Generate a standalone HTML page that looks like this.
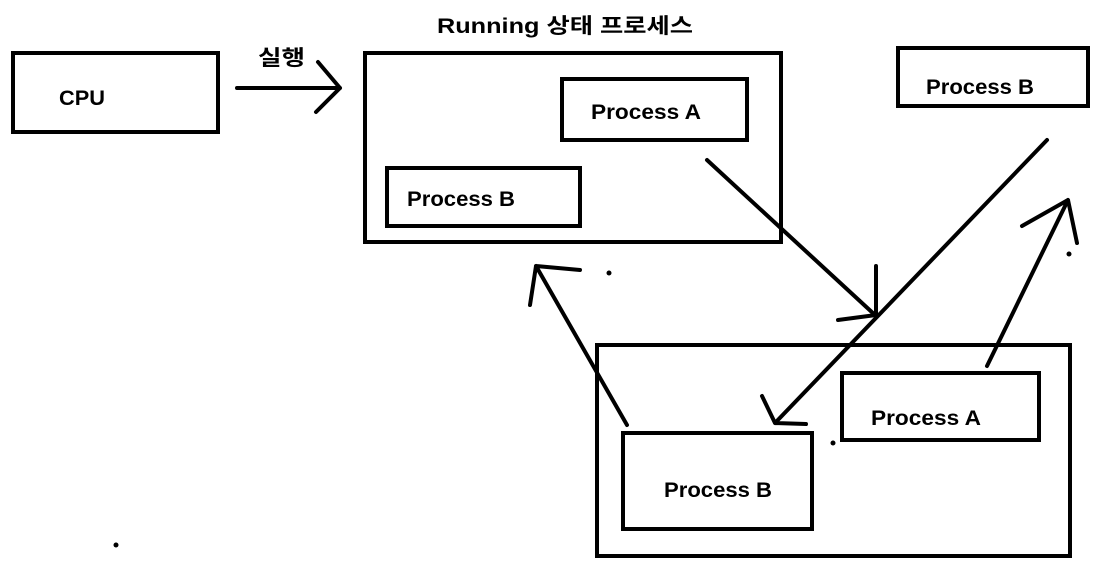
<!DOCTYPE html>
<html><head><meta charset="utf-8"><style>
html,body{margin:0;padding:0;background:#fff;}
svg{display:block;}
text{font-family:"Liberation Sans","Noto Sans CJK KR",sans-serif;font-weight:bold;font-size:21px;fill:#000;}
</style></head><body>
<svg width="1106" height="571" viewBox="0 0 1106 571" xmlns="http://www.w3.org/2000/svg">
<g fill="none" stroke="#000" stroke-width="4">
<rect x="13" y="53" width="205" height="79"/>
<rect x="365" y="53" width="416" height="189"/>
<rect x="562" y="79" width="185" height="61"/>
<rect x="387" y="168" width="193" height="58"/>
<rect x="898" y="48" width="190" height="58"/>
<rect x="597" y="345" width="473" height="211"/>
<rect x="842" y="373" width="197" height="67"/>
<rect x="623" y="433" width="189" height="96"/>
</g>
<g fill="none" stroke="#000" stroke-width="4" stroke-linecap="round" stroke-linejoin="round">
<path d="M237 88 L340 88 M318 62 L340 88 L316 112"/>
<path d="M707 160 L875 315 M876 266 L876 315 L838 320"/>
<path d="M1047 140 L775 423 M762 396 L775 423 L806 424"/>
<path d="M987 366 L1068 200 M1022 226 L1068 200 L1077 243"/>
<path d="M627 425 L536 266 M530 305 L536 266 L580 270"/>
</g>
<g fill="#000">
<circle cx="609" cy="273" r="2.5"/>
<circle cx="1069" cy="254" r="2.5"/>
<circle cx="833" cy="443" r="2.5"/>
<circle cx="116" cy="545" r="2.5"/>
</g>
<text x="437" y="33" textLength="256" lengthAdjust="spacingAndGlyphs">Running 상태 프로세스</text>
<text x="258" y="65" textLength="47" lengthAdjust="spacingAndGlyphs">실행</text>
<text x="59" y="105" textLength="46" lengthAdjust="spacingAndGlyphs">CPU</text>
<text x="591" y="119" textLength="110" lengthAdjust="spacingAndGlyphs">Process A</text>
<text x="407" y="206" textLength="108" lengthAdjust="spacingAndGlyphs">Process B</text>
<text x="926" y="94" textLength="108" lengthAdjust="spacingAndGlyphs">Process B</text>
<text x="871" y="425" textLength="110" lengthAdjust="spacingAndGlyphs">Process A</text>
<text x="664" y="497" textLength="108" lengthAdjust="spacingAndGlyphs">Process B</text>
</svg>
</body></html>
